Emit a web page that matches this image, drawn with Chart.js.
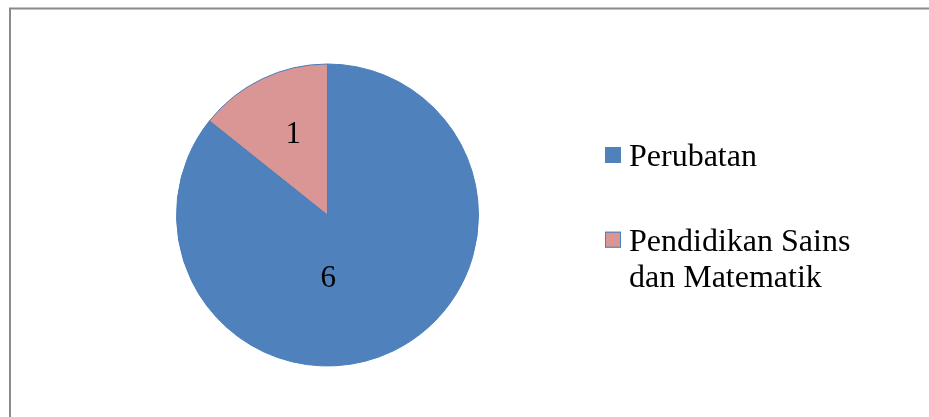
<!DOCTYPE html>
<html>
<head>
<meta charset="utf-8">
<script src="https://cdn.jsdelivr.net/npm/chart.js@4.4.1/dist/chart.umd.min.js"></script>
<style>
  html, body { margin: 0; padding: 0; background: #ffffff; }
  #wrap { width: 929px; height: 417px; position: relative; }
</style>
</head>
<body>
<div id="wrap"><canvas id="c" width="929" height="417"></canvas></div>
<script>
// ---- Data ----
const categories = ['Perubatan', 'Pendidikan Sains dan Matematik'];
const values = [6, 1];
const sliceColors = ['#4F81BD', '#D99694'];
const outlineColor = '#4A7EBB';

const FONT = '"Liberation Serif", "Times New Roman", serif';

// Frame around the chart (like the Office chart border)
const framePlugin = {
  id: 'frame',
  beforeDraw(chart) {
    const ctx = chart.ctx;
    ctx.save();
    ctx.strokeStyle = '#8a8a8a';
    ctx.lineWidth = 2;
    ctx.strokeRect(10, 8.5, chart.width + 20, chart.height + 20);
    ctx.restore();
  }
};

// Value labels inside slices, placed in polar terms relative to each arc
const valueLabelPlugin = {
  id: 'valueLabels',
  afterDatasetsDraw(chart, args, opts) {
    const ctx = chart.ctx;
    const meta = chart.getDatasetMeta(0);
    ctx.save();
    ctx.font = opts.size + 'px ' + FONT;
    ctx.fillStyle = '#000';
    ctx.textAlign = 'center';
    ctx.textBaseline = 'middle';
    meta.data.forEach((arc, i) => {
      const p = arc.getProps(['x', 'y', 'startAngle', 'endAngle', 'outerRadius'], true);
      const mid = (p.startAngle + p.endAngle) / 2;
      const pl = opts.place[i] || { dAngle: 0, r: 0.55 };
      const a = mid + pl.dAngle * Math.PI / 180;
      const x = p.x + Math.cos(a) * p.outerRadius * pl.r;
      const y = p.y + Math.sin(a) * p.outerRadius * pl.r;
      ctx.fillText(String(chart.data.datasets[0].data[i]), x, y);
    });
    ctx.restore();
  }
};

// Legend on the right with wrapped text
const sideLegendPlugin = {
  id: 'sideLegend',
  afterDraw(chart, args, opts) {
    const ctx = chart.ctx;
    const ds = chart.data.datasets[0];
    ctx.save();
    ctx.font = opts.size + 'px ' + FONT;
    ctx.textBaseline = 'alphabetic';
    ctx.textAlign = 'left';
    let baseline = opts.firstBaseline;
    chart.data.labels.forEach((label, i) => {
      // word wrap
      const words = label.split(' ');
      const lines = [];
      let cur = '';
      words.forEach(w => {
        const test = cur ? cur + ' ' + w : w;
        if (ctx.measureText(test).width > opts.maxWidth && cur) {
          lines.push(cur); cur = w;
        } else cur = test;
      });
      if (cur) lines.push(cur);
      // box
      const bs = opts.boxSize;
      const bx = opts.x;
      const by = baseline - 11 - bs / 2;
      ctx.fillStyle = ds.backgroundColor[i];
      ctx.fillRect(bx, by, bs, bs);
      if (i > 0) {
        ctx.strokeStyle = outlineColor;
        ctx.lineWidth = 1;
        ctx.strokeRect(bx + 0.5, by + 0.5, bs - 1, bs - 1);
      }
      ctx.fillStyle = '#000';
      lines.forEach((ln, j) => {
        ctx.fillText(ln, opts.x + bs + opts.gap, baseline + j * opts.lineHeight);
      });
      baseline += (lines.length - 1) * opts.lineHeight + opts.itemSpacing;
    });
    ctx.restore();
  }
};

new Chart(document.getElementById('c'), {
  type: 'pie',
  data: {
    labels: categories,
    datasets: [{
      data: values,
      backgroundColor: sliceColors,
      borderColor: outlineColor,
      borderWidth: 1
    }]
  },
  options: {
    responsive: false,
    animation: false,
    devicePixelRatio: 1,
    layout: { padding: { left: 176, right: 450, top: 63, bottom: 50 } },
    plugins: {
      legend: { display: false },
      tooltip: { enabled: false },
      valueLabels: {
        size: 31,
        place: [ { dAngle: 25, r: 0.42 }, { dAngle: 2.5, r: 0.575 } ]
      },
      sideLegend: {
        x: 605, firstBaseline: 166, size: 32, boxSize: 16, gap: 8,
        lineHeight: 36, itemSpacing: 84.7, maxWidth: 250
      }
    }
  },
  plugins: [framePlugin, valueLabelPlugin, sideLegendPlugin]
});
</script>
</body>
</html>
